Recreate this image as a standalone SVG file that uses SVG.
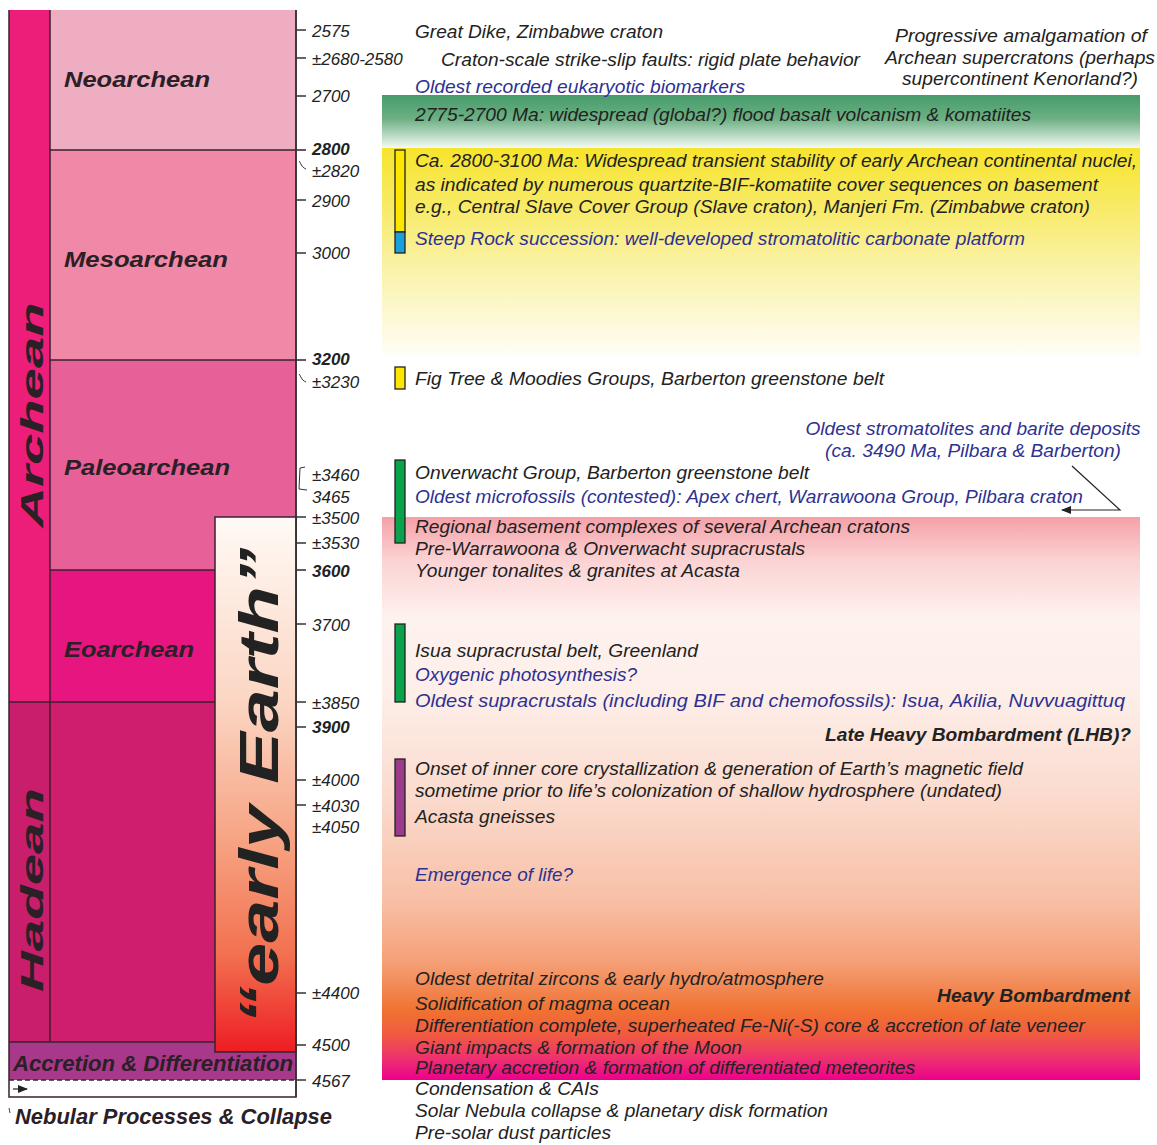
<svg xmlns="http://www.w3.org/2000/svg" width="1157" height="1145" viewBox="0 0 1157 1145">
<defs>
<linearGradient id="gGreen" x1="0" y1="0" x2="0" y2="1">
<stop offset="0" stop-color="#479b6b"/><stop offset="0.45" stop-color="#6cb083"/><stop offset="1" stop-color="#f4faf5"/>
</linearGradient>
<linearGradient id="gYellow" x1="0" y1="0" x2="0" y2="1">
<stop offset="0" stop-color="#f7e42c"/><stop offset="0.3" stop-color="#f8eb6a"/><stop offset="0.6" stop-color="#faf3ad"/><stop offset="1" stop-color="#fffef6"/>
</linearGradient>
<linearGradient id="gPink" x1="0" y1="0" x2="0" y2="1">
<stop offset="0" stop-color="#f5a0a8"/><stop offset="0.076" stop-color="#fbd2d3"/><stop offset="0.18" stop-color="#fef2ef"/><stop offset="0.32" stop-color="#fdeee8"/><stop offset="0.5" stop-color="#fbdacd"/><stop offset="0.68" stop-color="#f8c0a6"/><stop offset="0.79" stop-color="#f5a078"/><stop offset="0.876" stop-color="#f07232"/><stop offset="0.92" stop-color="#f05a40"/><stop offset="0.964" stop-color="#ee2e72"/><stop offset="1" stop-color="#ec008c"/>
</linearGradient>
<linearGradient id="gEarly" x1="0" y1="0" x2="0" y2="1">
<stop offset="0" stop-color="#fffaf6"/><stop offset="0.35" stop-color="#fbd5c2"/><stop offset="0.62" stop-color="#f6a07f"/><stop offset="0.82" stop-color="#f2704f"/><stop offset="1" stop-color="#ee1c24"/>
</linearGradient>
<marker id="arr" markerWidth="10" markerHeight="8" refX="9" refY="4" orient="auto" markerUnits="userSpaceOnUse">
<path d="M0,0 L10,4 L0,8 Z" fill="#222"/>
</marker>
</defs>
<style>
text{font-family:"Liberation Sans",Arial,sans-serif;font-style:italic;fill:#222;}
.t{font-size:17.5px;}
.b{color:#2e3192;fill:#2e3192;}
.bold{font-weight:bold;}
.tk{font-size:17px;}
.tkb{font-size:17px;font-weight:bold;}
.era{font-size:22px;font-weight:bold;fill:#2a2026;}
.eon{font-size:32px;font-weight:bold;fill:#2a2026;}
.line{stroke:#3a2030;stroke-width:1.5;fill:none;}
.tick{stroke:#333;stroke-width:1.5;}
</style>
<rect width="1157" height="1145" fill="#ffffff"/>

<g id="bands">
<rect x="382" y="95" width="758" height="53" fill="url(#gGreen)"/>
<rect x="382" y="148" width="758" height="208" fill="url(#gYellow)"/>
<rect x="382" y="517" width="758" height="563" fill="url(#gPink)"/>
</g>

<g id="timescale">
<rect id="eon-archean" x="9" y="10" width="41" height="692" fill="#ec1e79"/>
<rect id="eon-hadean" x="9" y="702" width="41" height="340" fill="#c81e6c"/>
<rect id="era-neo" x="50" y="10" width="246" height="140" fill="#eeadc0"/>
<rect id="era-meso" x="50" y="150" width="246" height="210" fill="#f088a7"/>
<rect id="era-paleo" x="50" y="360" width="246" height="210" fill="#e86098"/>
<rect id="era-eo" x="50" y="570" width="246" height="132" fill="#e6157f"/>
<rect id="era-hadean" x="50" y="702" width="246" height="340" fill="#d01e6e"/>
<rect id="accretion" x="9" y="1042" width="287" height="38" fill="#a8388a"/>
<path class="line" d="M9,10 V1097 H296 V10"/>
<path class="line" d="M50,10 V1042"/>
<path class="line" d="M50,150 H306 M50,360 H306 M50,570 H306 M9,702 H296 M9,1042 H296"/>
<path d="M9,1080 H296" stroke="#3a2030" stroke-width="1.5" stroke-dasharray="5,3"/>
<line x1="13" y1="1089" x2="27" y2="1089" stroke="#222" stroke-width="1.2" marker-end="url(#arr)"/>
<path d="M9,1108 L10,1113" stroke="#444" stroke-width="1"/>
<text class="era" x="64" y="87" textLength="146" lengthAdjust="spacingAndGlyphs">Neoarchean</text>
<text class="era" x="64" y="267" textLength="164" lengthAdjust="spacingAndGlyphs">Mesoarchean</text>
<text class="era" x="64" y="475" textLength="166" lengthAdjust="spacingAndGlyphs">Paleoarchean</text>
<text class="era" x="64" y="657" textLength="130" lengthAdjust="spacingAndGlyphs">Eoarchean</text>
<text class="era" x="13" y="1071" font-size="24" textLength="280" lengthAdjust="spacingAndGlyphs">Accretion &amp; Differentiation</text>
<text class="era" x="15" y="1124" textLength="317" lengthAdjust="spacingAndGlyphs">Nebular Processes &amp; Collapse</text>
<text class="eon" transform="translate(43,415) rotate(-90)" text-anchor="middle" textLength="225" lengthAdjust="spacingAndGlyphs">Archean</text>
<text class="eon" transform="translate(43,890) rotate(-90)" text-anchor="middle" textLength="204" lengthAdjust="spacingAndGlyphs">Hadean</text>
</g>

<g id="early-earth">
<rect x="215" y="517" width="81" height="535" fill="url(#gEarly)" stroke="#3a2030" stroke-width="1.5"/>
<text transform="translate(278,786) rotate(-90)" text-anchor="middle" font-size="56" font-weight="bold" fill="#1e1e1e" textLength="477" lengthAdjust="spacingAndGlyphs">“early Earth”</text>
</g>

<g id="axis">
<line x1="296" y1="10" x2="296" y2="1097" stroke="#333" stroke-width="1.5"/>
<path class="tick" d="M296,30 H306 M296,58 H306 M296,96 H306 M296,200 H306 M296,253 H306 M296,517 H306 M296,543 H306 M296,624 H306 M296,702 H306 M296,727 H306 M296,780 H306 M296,805 H306 M296,993 H306 M296,1045 H306 M296,1080 H306"/>
<path d="M299,161 C301,163 301,167 306,169" stroke="#333" stroke-width="1" fill="none"/>
<path d="M299,374 C301,376 301,380 306,382" stroke="#333" stroke-width="1" fill="none"/>
<path d="M305,467 L300,468 L299,489 L307,490" stroke="#333" stroke-width="1" fill="none"/>
<text class="tk" x="312" y="37">2575</text>
<text class="tk" x="312" y="65">±2680-2580</text>
<text class="tk" x="312" y="102">2700</text>
<text class="tkb" x="312" y="155">2800</text>
<text class="tk" x="312" y="177">±2820</text>
<text class="tk" x="312" y="207">2900</text>
<text class="tk" x="312" y="259">3000</text>
<text class="tkb" x="312" y="365">3200</text>
<text class="tk" x="312" y="388">±3230</text>
<text class="tk" x="312" y="481">±3460</text>
<text class="tk" x="312" y="503">3465</text>
<text class="tk" x="312" y="524">±3500</text>
<text class="tk" x="312" y="549">±3530</text>
<text class="tkb" x="312" y="577">3600</text>
<text class="tk" x="312" y="631">3700</text>
<text class="tk" x="312" y="709">±3850</text>
<text class="tkb" x="312" y="733">3900</text>
<text class="tk" x="312" y="786">±4000</text>
<text class="tk" x="312" y="812">±4030</text>
<text class="tk" x="312" y="833">±4050</text>
<text class="tk" x="312" y="999">±4400</text>
<text class="tk" x="312" y="1051">4500</text>
<text class="tk" x="312" y="1087">4567</text>
</g>

<g id="bars" stroke="#222" stroke-width="1.3">
<rect x="395" y="150" width="10" height="82" fill="#ffe600"/>
<rect x="395" y="232" width="10" height="21" fill="#1ba0db"/>
<rect x="395" y="367" width="10" height="22" fill="#ffe600"/>
<rect x="395" y="460" width="10" height="83" fill="#0aa24b"/>
<rect x="395" y="624" width="10" height="78" fill="#0aa24b"/>
<rect x="395" y="759" width="10" height="77" fill="#9c3a8b"/>
</g>

<g id="connectors">
<path d="M1072,466 L1120,510 L1062,510" stroke="#222" stroke-width="1.2" fill="none" marker-end="url(#arr)"/>
</g>

<g id="events">
<text class="t" x="415" y="38" textLength="248" lengthAdjust="spacingAndGlyphs">Great Dike, Zimbabwe craton</text>
<text class="t" x="441" y="66" textLength="419" lengthAdjust="spacingAndGlyphs">Craton-scale strike-slip faults: rigid plate behavior</text>
<text class="t b" x="415" y="93" textLength="330" lengthAdjust="spacingAndGlyphs">Oldest recorded eukaryotic biomarkers</text>
<text class="t" x="415" y="121" textLength="616" lengthAdjust="spacingAndGlyphs">2775-2700 Ma: widespread (global?) flood basalt volcanism &amp; komatiites</text>
<text class="t" x="1021" y="42" text-anchor="middle" textLength="252" lengthAdjust="spacingAndGlyphs">Progressive amalgamation of</text>
<text class="t" x="1020" y="64" text-anchor="middle" textLength="270" lengthAdjust="spacingAndGlyphs">Archean supercratons (perhaps</text>
<text class="t" x="1020" y="85" text-anchor="middle" textLength="236" lengthAdjust="spacingAndGlyphs">supercontinent Kenorland?)</text>
<text class="t" x="415" y="167" textLength="722" lengthAdjust="spacingAndGlyphs">Ca. 2800-3100 Ma: Widespread transient stability of early Archean continental nuclei,</text>
<text class="t" x="415" y="191" textLength="683" lengthAdjust="spacingAndGlyphs">as indicated by numerous quartzite-BIF-komatiite cover sequences on basement</text>
<text class="t" x="415" y="213" textLength="675" lengthAdjust="spacingAndGlyphs">e.g., Central Slave Cover Group (Slave craton), Manjeri Fm. (Zimbabwe craton)</text>
<text class="t b" x="415" y="245" textLength="610" lengthAdjust="spacingAndGlyphs">Steep Rock succession: well-developed stromatolitic carbonate platform</text>
<text class="t" x="415" y="385" textLength="469" lengthAdjust="spacingAndGlyphs">Fig Tree &amp; Moodies Groups, Barberton greenstone belt</text>
<text class="t b" x="973" y="435" text-anchor="middle" textLength="335" lengthAdjust="spacingAndGlyphs">Oldest stromatolites and barite deposits</text>
<text class="t b" x="973" y="457" text-anchor="middle" textLength="296" lengthAdjust="spacingAndGlyphs">(ca. 3490 Ma, Pilbara &amp; Barberton)</text>
<text class="t" x="415" y="479" textLength="394" lengthAdjust="spacingAndGlyphs">Onverwacht Group, Barberton greenstone belt</text>
<text class="t b" x="415" y="503" textLength="668" lengthAdjust="spacingAndGlyphs">Oldest microfossils (contested): Apex chert, Warrawoona Group, Pilbara craton</text>
<text class="t" x="415" y="533" textLength="495" lengthAdjust="spacingAndGlyphs">Regional basement complexes of several Archean cratons</text>
<text class="t" x="415" y="555" textLength="390" lengthAdjust="spacingAndGlyphs">Pre-Warrawoona &amp; Onverwacht supracrustals</text>
<text class="t" x="415" y="577" textLength="325" lengthAdjust="spacingAndGlyphs">Younger tonalites &amp; granites at Acasta</text>
<text class="t" x="415" y="657" textLength="283" lengthAdjust="spacingAndGlyphs">Isua supracrustal belt, Greenland</text>
<text class="t b" x="415" y="681" textLength="222" lengthAdjust="spacingAndGlyphs">Oxygenic photosynthesis?</text>
<text class="t b" x="415" y="707" textLength="710" lengthAdjust="spacingAndGlyphs">Oldest supracrustals (including BIF and chemofossils): Isua, Akilia, Nuvvuagittuq</text>
<text class="t bold" x="825" y="741" textLength="306" lengthAdjust="spacingAndGlyphs">Late Heavy Bombardment (LHB)?</text>
<text class="t" x="415" y="775" textLength="608" lengthAdjust="spacingAndGlyphs">Onset of inner core crystallization &amp; generation of Earth’s magnetic field</text>
<text class="t" x="415" y="797" textLength="587" lengthAdjust="spacingAndGlyphs">sometime prior to life’s colonization of shallow hydrosphere (undated)</text>
<text class="t" x="415" y="823" textLength="140" lengthAdjust="spacingAndGlyphs">Acasta gneisses</text>
<text class="t b" x="415" y="881" textLength="158" lengthAdjust="spacingAndGlyphs">Emergence of life?</text>
<text class="t" x="415" y="985" textLength="409" lengthAdjust="spacingAndGlyphs">Oldest detrital zircons &amp; early hydro/atmosphere</text>
<text class="t bold" x="937" y="1002" textLength="193" lengthAdjust="spacingAndGlyphs">Heavy Bombardment</text>
<text class="t" x="415" y="1010" textLength="255" lengthAdjust="spacingAndGlyphs">Solidification of magma ocean</text>
<text class="t" x="415" y="1032" textLength="670" lengthAdjust="spacingAndGlyphs">Differentiation complete, superheated Fe-Ni(-S) core &amp; accretion of late veneer</text>
<text class="t" x="415" y="1054" textLength="327" lengthAdjust="spacingAndGlyphs">Giant impacts &amp; formation of the Moon</text>
<text class="t" x="415" y="1074" textLength="500" lengthAdjust="spacingAndGlyphs">Planetary accretion &amp; formation of differentiated meteorites</text>
<text class="t" x="415" y="1095" textLength="184" lengthAdjust="spacingAndGlyphs">Condensation &amp; CAIs</text>
<text class="t" x="415" y="1117" textLength="413" lengthAdjust="spacingAndGlyphs">Solar Nebula collapse &amp; planetary disk formation</text>
<text class="t" x="415" y="1139" textLength="196" lengthAdjust="spacingAndGlyphs">Pre-solar dust particles</text>
</g>
</svg>
